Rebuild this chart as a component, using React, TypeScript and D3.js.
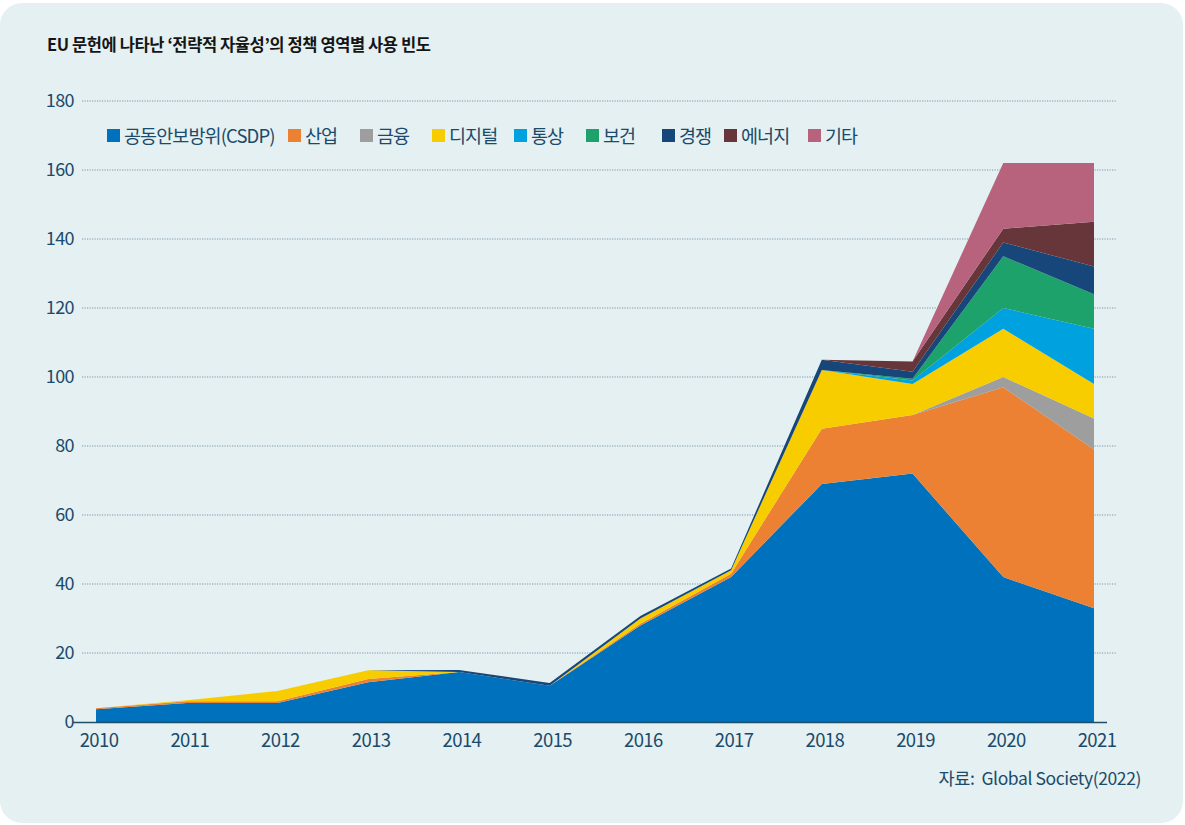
import React from "react";
import * as d3 from "d3";

const years = [2010, 2011, 2012, 2013, 2014, 2015, 2016, 2017, 2018, 2019, 2020, 2021];
const seriesNames = ["공동안보방위(CSDP)", "산업", "금융", "디지털", "통상", "보건", "경쟁", "에너지", "기타"];
const csdp = [3.7, 5.5, 5.5, 11.5, 14.5, 10.5, 28, 42, 69, 72, 42, 33];
const industry = [0.3, 0.5, 0.5, 1, 0, 0, 0.5, 1, 16, 17, 55, 46];
const finance = [0, 0, 0, 0, 0, 0, 0, 0, 0, 0, 3, 9];
const digital = [0, 0.3, 3, 2.5, 0, 0, 1.5, 1, 17, 9, 14, 10];
const trade = [0, 0, 0, 0, 0, 0, 0, 0, 0, 1, 6, 16];
const health = [0, 0, 0, 0, 0, 0, 0, 0, 0, 0.5, 15, 10];
const competition = [0, 0, 0, 0, 0.6, 0.8, 0.7, 0.5, 3, 2, 4, 8];
const energy = [0, 0, 0, 0, 0, 0, 0, 0, 0, 3, 4, 13];
const other = [0, 0, 0, 0, 0, 0, 0, 0, 0, 0, 19, 17];
const yTicks = [0, 20, 40, 60, 80, 100, 120, 140, 160, 180];

const seriesValues = [csdp, industry, finance, digital, trade, health, competition, energy, other];
const colors = ["#0071bc", "#ec8134", "#9e9e9e", "#f8cd00", "#00a1df", "#1ea26c", "#17467b", "#67363a", "#b7637d"];
const legendX = [107, 288, 360, 432, 514, 586, 662, 724, 808];

const W = 1185;
const H = 825;
const FONT = "'Noto Sans CJK KR', 'Noto Sans', sans-serif";
const TEXT = "#1b4a6b";

export default function App() {
  const x = d3.scaleLinear().domain([2010, 2021]).range([96, 1094]);
  const y = d3.scaleLinear().domain([0, 180]).range([722, 101]);

  const table = years.map((yr, i) => {
    const row: Record<string, number> = { year: yr };
    seriesNames.forEach((n, k) => (row[n] = seriesValues[k][i]));
    return row;
  });
  const stacked = d3.stack<Record<string, number>>().keys(seriesNames)(table);
  const area = d3
    .area<d3.SeriesPoint<Record<string, number>>>()
    .x((d) => x(d.data.year))
    .y0((d) => y(d[0]))
    .y1((d) => y(d[1]));

  return (
    <div style={{ position: "absolute", left: 0, top: 0 }}>
      <svg width={W} height={H} style={{ display: "block", fontFamily: FONT }}>
        <rect x={0} y={0} width={W} height={H} fill="#ffffff" />
        <rect x={0} y={3} width={W - 2} height={H - 5} rx={22} fill="#e4f0f1" />
        <text x={47} y={51} fontSize={16.5} fontWeight={700} fill="#151515" letterSpacing={-0.4}>
          EU 문헌에 나타난 ‘전략적 자율성’의 정책 영역별 사용 빈도
        </text>
        {yTicks.map((t) => (
          <g key={t}>
            {t > 0 && (
              <line
                x1={82}
                x2={1116}
                y1={y(t)}
                y2={y(t)}
                stroke="#7d97ab"
                strokeWidth={1}
                strokeDasharray="1.2,1.3"
              />
            )}
            <text x={74} y={y(t)} dy="0.35em" textAnchor="end" fontSize={18} fill={TEXT} letterSpacing={-0.6}>
              {t}
            </text>
          </g>
        ))}
        {stacked.map((s, k) => (
          <path key={s.key} d={area(s) || ""} fill={colors[k]} />
        ))}
        <line x1={73} x2={1107} y1={y(0) + 0.5} y2={y(0) + 0.5} stroke="#1d4f6b" strokeWidth={1.5} />
        {years.map((yr) => (
          <text key={yr} x={x(yr) + 3} y={747} textAnchor="middle" fontSize={18.5} fill={TEXT} letterSpacing={-0.6}>
            {yr}
          </text>
        ))}
        {seriesNames.map((n, k) => (
          <g key={n}>
            <rect x={legendX[k]} y={129} width={13} height={13} fill={colors[k]} />
            <text x={legendX[k] + 17} y={136} dy="0.36em" fontSize={18.5} fill={TEXT} letterSpacing={-0.9}>
              {n}
            </text>
          </g>
        ))}
        <text
          x={1141}
          y={785}
          textAnchor="end"
          fontSize={17.5}
          fill={TEXT}
          letterSpacing={-0.4}
          style={{ whiteSpace: "pre" }}
        >
          {"자료:  Global Society(2022)"}
        </text>
      </svg>
    </div>
  );
}
